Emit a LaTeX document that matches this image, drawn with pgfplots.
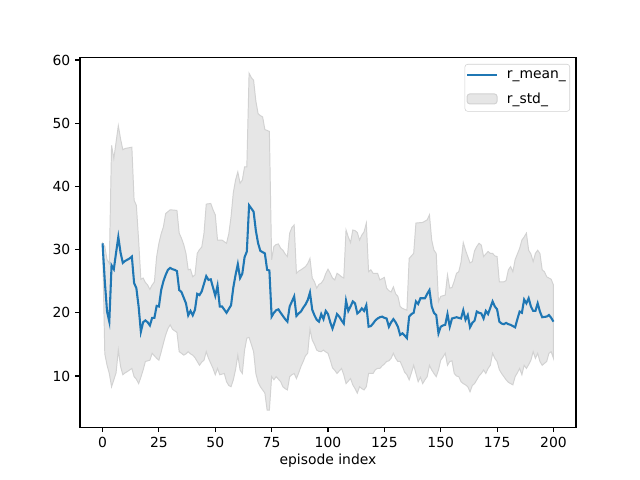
\documentclass[border=0pt]{standalone}
\usepackage{fontspec}
\setmainfont{DejaVu Sans}
\usepackage{pgfplots}
\pgfplotsset{compat=1.18}
\usepgfplotslibrary{fillbetween}
\definecolor{mplblue}{HTML}{1F77B4}
\definecolor{bandfill}{HTML}{E6E6E6}
\definecolor{bandedge}{HTML}{D2D2D2}

\pgfplotstableread{
x y
0 31.0
1 25.0
2 20.2
3 18.6
4 27.5
5 26.9
6 29.5
7 32.0
8 29.5
9 27.9
10 28.2
11 28.4
12 28.6
13 28.9
14 24.7
15 23.9
16 21.0
17 17.0
18 18.5
19 18.8
20 18.5
21 18.0
22 19.2
23 19.2
24 21.1
25 21.0
26 23.6
27 25.0
28 26.0
29 26.8
30 27.1
31 26.9
32 26.8
33 26.6
34 23.6
35 23.3
36 22.4
37 21.5
38 19.6
39 20.3
40 19.6
41 20.5
42 23.0
43 22.8
44 23.4
45 24.6
46 25.8
47 25.2
48 25.3
49 24.0
50 22.7
51 24.3
52 21.0
53 21.0
54 20.5
55 20.0
56 20.6
57 21.2
58 24.0
59 26.0
60 27.7
61 25.5
62 26.2
63 28.8
64 29.7
65 37.0
66 36.5
67 36.0
68 33.0
69 31.0
70 29.8
71 29.6
72 29.4
73 26.8
74 26.7
75 19.4
76 20.0
77 20.4
78 20.55
79 20.0
80 19.5
81 19.0
82 18.6
83 21.0
84 21.8
85 22.6
86 19.5
87 19.9
88 20.2
89 20.8
90 21.3
91 22.0
92 23.2
93 20.5
94 19.6
95 18.9
96 18.6
97 19.8
98 19.0
99 20.3
100 19.8
101 18.5
102 17.5
103 18.6
104 19.8
105 19.4
106 18.8
107 18.3
108 21.9
109 20.3
110 21.0
111 21.8
112 21.5
113 19.9
114 20.2
115 20.7
116 20.3
117 21.2
118 17.8
119 17.9
120 18.3
121 18.8
122 19.1
123 19.3
124 19.4
125 19.2
126 19.1
127 17.8
128 18.5
129 19.0
130 18.5
131 17.8
132 16.5
133 16.75
134 16.4
135 16.0
136 19.4
137 19.8
138 20.0
139 21.8
140 21.4
141 22.3
142 22.3
143 22.3
144 23.0
145 23.6
146 21.0
147 20.0
148 19.65
149 16.75
150 17.8
151 18.0
152 18.1
153 19.8
154 17.8
155 19.1
156 19.2
157 19.3
158 19.2
159 19.1
160 20.4
161 18.9
162 19.65
163 17.7
164 18.4
165 18.75
166 20.2
167 20.0
168 19.9
169 19.1
170 20.3
171 19.8
172 20.8
173 21.8
174 21.0
175 20.55
176 18.6
177 18.3
178 18.2
179 18.4
180 18.2
181 18.1
182 17.9
183 17.7
184 19.0
185 20.2
186 20.0
187 22.1
188 21.5
189 22.3
190 21.0
191 20.3
192 20.3
193 21.5
194 20.2
195 19.3
196 19.35
197 19.4
198 19.65
199 19.2
200 18.6
}\meantable

\pgfplotstableread{
x y
0 31.0
1 30.5
2 28.4
3 27.8
4 46.5
5 44.4
6 47.0
7 49.6
8 47.5
9 45.8
10 46.0
13 46.2
14 37.8
15 37.0
16 31.5
17 25.3
18 25.5
19 24.8
20 24.4
21 23.7
22 24.4
23 24.9
24 28.9
25 31.0
26 32.5
27 33.6
28 35.7
29 36.0
30 36.3
33 36.2
34 32.6
35 31.8
36 30.8
37 29.4
38 26.8
39 26.9
40 25.7
41 26.0
42 29.4
43 30.0
44 30.4
45 32.6
46 37.2
48 37.3
49 36.3
50 35.5
51 31.5
53 31.5
55 31.0
56 32.5
57 35.2
58 39.0
59 41.0
60 42.3
61 40.5
62 41.0
63 43.1
64 43.1
65 57.9
66 57.2
67 56.8
68 53.5
69 51.5
70 51.2
71 51.0
72 49.0
74 48.7
75 28.4
76 30.5
77 30.8
78 30.9
79 30.2
80 29.9
81 29.3
82 28.9
83 32.6
84 33.5
85 33.9
86 26.25
87 26.6
88 26.8
90 27.3
91 27.8
92 28.6
93 25.5
94 24.9
95 23.9
96 24.5
97 24.7
98 25.2
99 26.2
100 26.9
101 26.25
102 25.5
103 25.2
104 26.25
105 26.0
106 25.7
107 25.5
108 33.1
109 32.0
110 31.1
111 33.1
112 33.0
113 32.7
114 31.5
115 32.3
116 32.8
117 34.2
118 26.5
119 26.8
120 26.25
122 26.25
123 25.2
124 25.4
125 25.6
126 23.9
127 23.5
128 23.3
129 24.1
130 23.0
131 22.6
132 21.0
133 20.7
134 20.55
135 20.4
136 28.6
137 29.0
138 29.4
139 34.2
142 34.3
143 34.5
144 34.7
145 35.5
146 31.5
147 29.9
148 29.4
149 21.75
150 22.6
151 22.7
152 22.8
153 26.0
154 23.9
155 24.0
156 25.0
157 26.25
158 26.5
159 28.0
160 31.1
161 29.9
162 28.9
163 27.9
164 28.1
165 29.8
166 30.5
167 31.0
168 30.7
169 28.9
170 29.3
171 29.7
172 29.4
173 29.4
174 29.0
175 28.9
176 24.9
178 24.9
179 25.1
180 26.8
181 27.3
182 26.5
183 28.4
184 29.3
185 30.2
186 31.5
187 32.0
188 32.6
189 29.9
190 29.3
191 28.1
192 29.4
193 29.9
194 29.4
195 26.8
196 26.5
197 25.7
198 25.5
199 25.3
200 24.4
}\uppertable

\pgfplotstableread{
x y
0 31.0
1 13.5
2 11.7
3 10.4
4 8.3
5 9.4
6 10.5
7 14.1
8 11.5
9 10.2
10 10.5
11 10.7
13 11.2
14 9.9
15 9.5
16 8.8
17 9.8
18 10.95
19 12.3
20 12.4
21 12.5
22 13.6
23 13.2
24 12.8
25 12.5
26 13.8
27 15.2
28 16.5
29 17.5
30 18.1
31 17.4
33 16.9
34 13.85
35 13.6
36 13.3
37 13.5
38 13.85
39 13.5
40 13.3
41 12.9
42 12.3
43 11.7
44 12.2
45 12.5
46 13.85
47 12.8
48 12.0
49 11.2
50 10.2
51 11.2
52 10.2
53 10.3
54 10.4
55 9.1
56 8.5
57 8.3
58 9.4
59 11.0
60 13.3
61 10.95
62 10.4
63 14.1
64 16.0
65 16.1
66 15.0
67 13.85
68 10.4
69 9.0
70 8.3
71 7.8
72 7.3
73 4.6
74 4.6
75 9.9
76 9.4
77 9.9
78 9.5
79 9.1
80 8.3
81 8.0
82 7.8
83 9.9
84 10.2
85 10.4
86 9.6
87 10.5
88 11.5
89 12.3
90 13.2
91 13.6
92 17.4
93 15.7
94 15.0
95 14.1
96 13.9
97 13.85
98 14.1
99 13.8
100 13.6
101 12.5
102 11.3
103 10.9
104 10.4
105 10.8
106 11.2
107 10.2
108 8.8
109 9.2
110 9.6
111 8.6
112 8.0
113 7.3
114 8.3
115 8.0
116 7.8
117 8.3
118 10.4
120 10.4
121 11.0
122 11.2
123 11.2
124 11.6
125 11.9
126 12.3
127 12.4
128 12.8
129 13.6
130 12.8
131 12.3
132 12.3
133 11.5
134 10.6
135 10.2
136 9.4
137 10.5
138 11.7
139 10.4
140 9.1
141 9.8
142 8.8
143 9.4
144 9.9
145 11.7
146 10.95
147 10.4
148 9.9
149 10.95
150 12.5
151 13.0
152 13.6
153 11.7
154 12.3
155 12.4
156 10.4
157 10.0
158 9.9
159 9.1
160 8.8
161 8.6
162 8.3
163 7.5
164 8.5
165 8.8
166 9.4
167 10.0
168 10.4
169 10.95
170 10.4
171 11.2
172 11.7
173 13.6
174 12.8
175 12.3
176 11.0
177 10.4
178 9.9
179 9.4
180 9.0
181 8.8
182 8.6
183 9.9
184 10.5
185 11.2
186 10.2
187 11.7
188 11.2
189 11.8
190 12.5
191 13.85
192 12.8
193 13.6
194 12.3
195 11.7
196 12.0
197 12.3
198 13.6
199 13.85
200 12.8
}\lowertable

\begin{document}
\begin{tikzpicture}
\begin{axis}[
  at={(0pt,0pt)}, anchor=south west,
  scale only axis,
  width=357.12pt, height=266.112pt,
  xmin=-10, xmax=210,
  ymin=1.9, ymax=60.38,
  xtick={0,25,...,200},
  ytick={10,20,...,60},
  tick align=outside,
  tick pos=left,
  major tick length=3.5pt,
  every tick/.style={black, line width=0.8pt},
  axis line style={line width=0.8pt},
  /pgf/number format/assume math mode=true,
  ticklabel style={font=\fontsize{10}{12}\selectfont},
  xlabel={episode index},
  xlabel style={font=\fontsize{10}{12}\selectfont, yshift=2pt},
  legend cell align=left,
  legend style={
    at={(1,1)}, xshift=-4.3pt, yshift=-4.6pt, anchor=north east,
    draw=black!18, rounded corners=2pt,
    font=\fontsize{10}{12}\selectfont,
    inner xsep=0.8pt, inner ysep=2.4pt,
    row sep=4.9pt, column sep=4.3pt,
  },
]
\addlegendimage{legend image code/.code={\draw[mplblue, line width=1.5pt] (0pt,0pt) -- (21.6pt,0pt);}}
\addlegendentry{r\_mean\_}
\addplot[name path=up, draw=none, forget plot] table[x=x,y=y] {\uppertable};
\addplot[name path=lo, draw=none, forget plot] table[x=x,y=y] {\lowertable};
\addplot[fill=bandfill, draw=bandedge, line width=0.7pt,
  legend image code/.code={\draw[fill=bandfill, draw=bandedge, line width=0.7pt] (0pt,-3.6pt) rectangle (21.6pt,3.6pt);}]
  fill between[of=up and lo];
\addlegendentry{r\_std\_}
\addplot[mplblue, line width=1.5pt, forget plot] table[x=x,y=y] {\meantable};
\end{axis}
\path (-57.6pt,-38.016pt) rectangle (403.2pt,307.584pt);
\end{tikzpicture}
\end{document}
